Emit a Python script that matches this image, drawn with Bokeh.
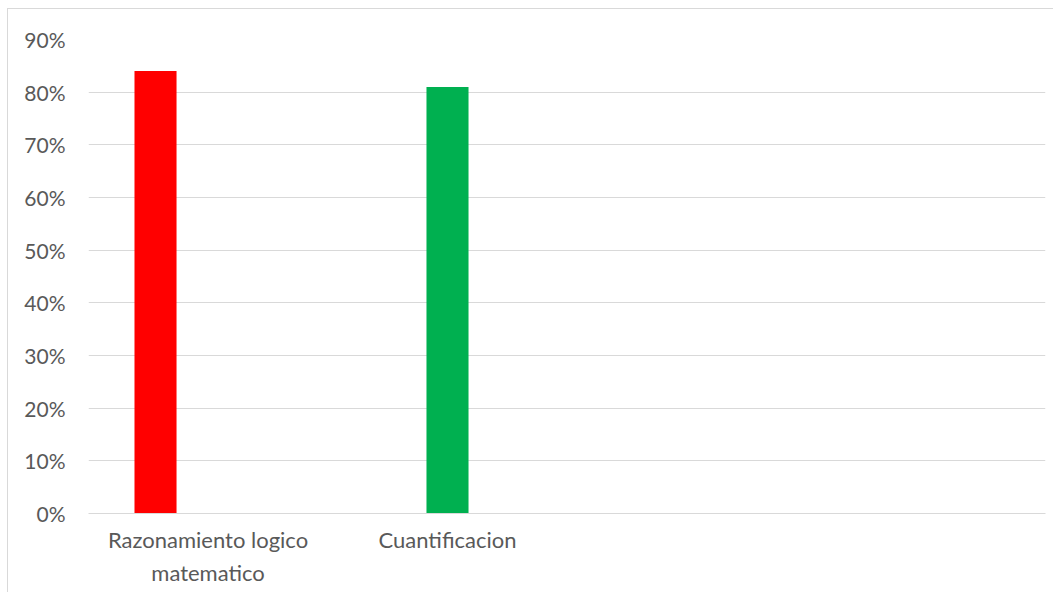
from bokeh.plotting import figure
from bokeh.models import ColumnDataSource, FixedTicker, NumeralTickFormatter, Range1d
from bokeh.embed import file_html
from bokeh.resources import INLINE

# ---- data ----
categories = ["Razonamiento logico\nmatematico", "Cuantificacion"]
values = [0.84, 0.81]
colors = ["#FF0000", "#00B050"]
y_ticks = [0.0, 0.1, 0.2, 0.3, 0.4, 0.5, 0.6, 0.7, 0.8, 0.9]

# ---- layout constants ----
bar_pos = list(range(len(categories)))
label_shift = [0.18, 0.0]  # Excel shifts the wide first label inward
label_pos = [b + s for b, s in zip(bar_pos, label_shift)]

src = ColumnDataSource(dict(x=bar_pos, top=values, color=colors))

p = figure(width=1046, height=584, output_backend="svg", toolbar_location=None,
           x_range=Range1d(-0.2295, 3.048), y_range=Range1d(0, 0.9),
           min_border_left=80, min_border_right=9, min_border_top=30, min_border_bottom=80)
p.styles = {"border-top": "1px solid #d9d9d9", "border-left": "1px solid #d9d9d9",
            "margin-left": "7px", "margin-top": "8px"}
p.outline_line_color = None

p.vbar(x="x", top="top", bottom=0, width=0.144, fill_color="color", line_color=None, source=src)

FONT = "Lato"
TXT = "#595959"

p.yaxis.ticker = FixedTicker(ticks=y_ticks)
p.yaxis.formatter = NumeralTickFormatter(format="0%")
p.yaxis.axis_line_color = None
p.yaxis.major_tick_line_color = None
p.yaxis.minor_tick_line_color = None
p.yaxis.major_tick_in = 0
p.yaxis.major_tick_out = 0
p.yaxis.major_label_standoff = 23
p.yaxis.major_label_text_font = FONT
p.yaxis.major_label_text_font_size = "21px"
p.yaxis.major_label_text_color = TXT

p.xaxis.ticker = FixedTicker(ticks=label_pos)
p.xaxis.major_label_overrides = {lp: c for lp, c in zip(label_pos, categories)}
p.xaxis.axis_line_color = "#d9d9d9"
p.xaxis.axis_line_width = 1
p.xaxis.major_tick_line_color = None
p.xaxis.minor_tick_line_color = None
p.xaxis.major_tick_in = 0
p.xaxis.major_tick_out = 0
p.xaxis.major_label_standoff = 12
p.xaxis.major_label_text_font = FONT
p.xaxis.major_label_text_font_size = "22px"
p.xaxis.major_label_text_line_height = 1.25
p.xaxis.major_label_text_color = TXT

p.ygrid.ticker = FixedTicker(ticks=y_ticks)
p.ygrid.grid_line_color = "#d9d9d9"
p.ygrid.grid_line_width = 1
p.xgrid.grid_line_color = None

open("out.html", "w").write(file_html(p, INLINE))
